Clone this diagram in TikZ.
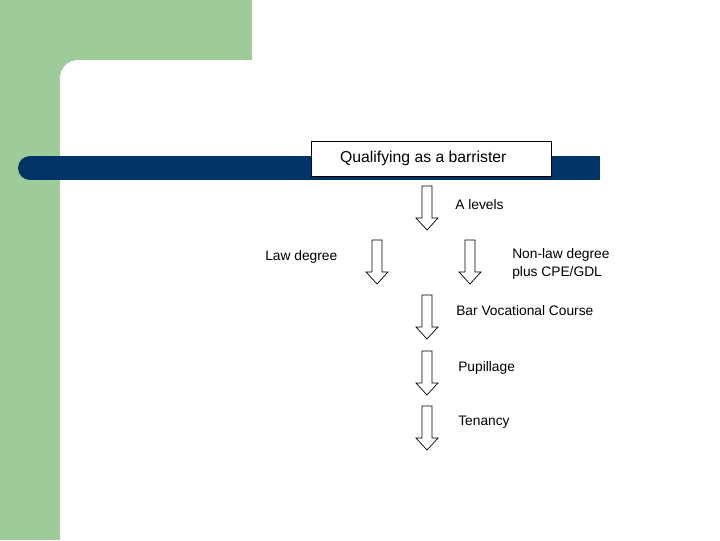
\documentclass[tikz,border=0pt]{standalone}
\usepackage{fontspec}
\setmainfont{Liberation Sans}
\definecolor{slidegreen}{RGB}{157,203,154}
\definecolor{slidenavy}{RGB}{0,51,102}
\tikzset{
	steplabel/.style={anchor=west, inner sep=0pt, font=\fontsize{9.8}{12.8}\selectfont, align=left},
	titlebox/.style={draw, fill=white, line width=0.6pt, minimum width=6cm, minimum height=0.875cm, font=\fontsize{11.2}{13}\selectfont},
	downarr/.pic={\draw[fill=white, line width=0.5pt] (-5,0) -- (5,0) -- (5,32) -- (11,32) -- (0,44) -- (-11,32) -- (-5,32) -- cycle;}
}
\begin{document}
\begin{tikzpicture}[x=0.025cm, y=-0.025cm]
	\useasboundingbox (0,0) rectangle (720,540);
	% slide background
	\fill[white] (0,0) rectangle (720,540);
	\fill[slidegreen] (0,0) rectangle (252,60);
	\fill[slidegreen] (0,0) rectangle (60,540);
	\fill[slidegreen] (60,60) rectangle (78,78);
	\fill[white] (78,78) circle (18);
	\fill[white] (78,60) rectangle (96,96);
	\fill[white] (60,78) rectangle (96,96);
	\fill[slidenavy] (30,156) rectangle (600,180);
	\fill[slidenavy] (30,168) circle (12);
	% title
	\node[titlebox] (title) at (431,158.5) {Qualifying as a barrister\hspace*{11pt}};
	% steps
	\node[steplabel] (alevels) at (455,205) {A levels};
	\node[steplabel] (lawdeg) at (265,257) {Law degree};
	\node[steplabel] (nonlaw) at (512,264) {Non-law degree\\plus CPE/GDL};
	\node[steplabel] (bvc) at (456,311) {Bar Vocational Course};
	\node[steplabel] (pupil) at (458,368) {Pupillage};
	\node[steplabel] (tenancy) at (458,422) {Tenancy};
	% arrows
	\pic at (427,186) {downarr};
	\pic at (377,240) {downarr};
	\pic at (470,240) {downarr};
	\pic at (427,295) {downarr};
	\pic at (427,351) {downarr};
	\pic at (427,406) {downarr};
\end{tikzpicture}
\end{document}
